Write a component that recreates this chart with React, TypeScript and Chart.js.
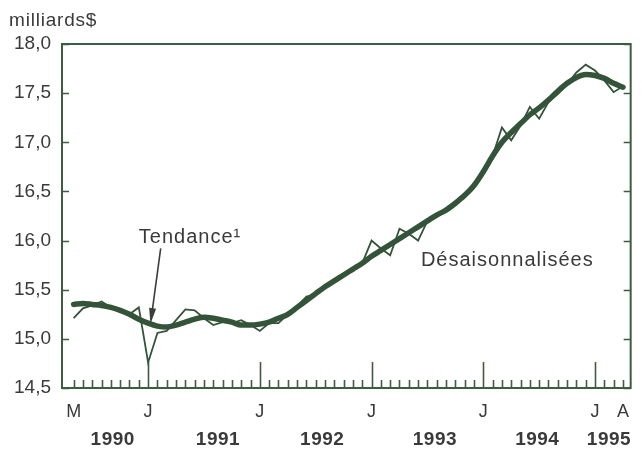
import React, { useEffect, useRef } from 'react';
import { Chart, registerables } from 'chart.js';

Chart.register(...registerables);

// Monthly series, May 1990 (index 0) to April 1995 (index 59), billions of dollars
const adjusted = [
  15.21, 15.31, 15.34, 15.38, 15.32, 15.29, 15.25, 15.32, 14.76, 15.06,
  15.08, 15.19, 15.30, 15.29, 15.21, 15.14, 15.17, 15.16, 15.19, 15.14,
  15.08, 15.16, 15.16, 15.25, 15.33, 15.43, 15.45, 15.53, 15.59, 15.65,
  15.71, 15.77, 16.00, 15.92, 15.85, 16.12, 16.07, 16.00, 16.20, 16.26,
  16.31, 16.38, 16.46, 16.57, 16.70, 16.86, 17.15, 17.02, 17.17, 17.36,
  17.24, 17.41, 17.49, 17.59, 17.71, 17.79, 17.73, 17.63, 17.51, 17.57,
];
const trend = [
  15.35, 15.36, 15.35, 15.34, 15.32, 15.29, 15.25, 15.20, 15.16, 15.13,
  15.12, 15.14, 15.17, 15.20, 15.22, 15.21, 15.19, 15.17, 15.14, 15.14,
  15.15, 15.17, 15.21, 15.25, 15.32, 15.39, 15.46, 15.53, 15.59, 15.65,
  15.71, 15.77, 15.84, 15.90, 15.96, 16.02, 16.08, 16.14, 16.20, 16.26,
  16.31, 16.38, 16.46, 16.56, 16.70, 16.86, 17.00, 17.10, 17.19, 17.28,
  17.35, 17.43, 17.52, 17.60, 17.66, 17.69, 17.68, 17.65, 17.60, 17.56,
];
const monthIndex = trend.map((_, i) => i);

const yTicks = [14.5, 15.0, 15.5, 16.0, 16.5, 17.0, 17.5, 18.0];
const monthLabelIdx = [0, 8, 20, 32, 44, 56, 59];
const monthLabelText = ['M', 'J', 'J', 'J', 'J', 'J', 'A'];
const majorTickIdx = [8, 20, 32, 44, 56];
const yearLabelIdx = [4.2, 15.5, 26.7, 38.8, 49.8, 57.5];
const yearLabelText = ['1990', '1991', '1992', '1993', '1994', '1995'];

// Annotation anchors in data coordinates
const trendLabelPos = { x: 7.0, y: 16.03 };
const arrowFrom = { x: 9.35, y: 15.92 };
const arrowTo = { x: 8.25, y: 15.15 };
const adjLabelPos = { x: 37.3, y: 15.80 };

const LINE = '#34543a';
const AXIS = '#3f5c43';
const TEXT = '#3a3a3a';
const FONT = "'Liberation Sans', Arial, sans-serif";

const framePlugin = {
  id: 'frame',
  beforeDatasetsDraw(chart: any) {
    const { ctx, chartArea, scales } = chart;
    const { left, right, top, bottom } = chartArea;
    const x = scales.x;
    const y = scales.y;
    ctx.save();
    ctx.strokeStyle = AXIS;
    ctx.lineWidth = 2;
    ctx.strokeRect(left, top, right - left, bottom - top);
    ctx.lineWidth = 1.6;
    ctx.beginPath();
    for (const v of yTicks) {
      const py = Math.round(y.getPixelForValue(v)) + 0.5;
      ctx.moveTo(left, py);
      ctx.lineTo(left + 7, py);
      ctx.moveTo(right, py);
      ctx.lineTo(right - 7, py);
    }
    for (const i of monthIndex) {
      const px = Math.round(x.getPixelForValue(i)) + 0.5;
      const h = majorTickIdx.includes(i) ? 26 : 8;
      ctx.moveTo(px, bottom);
      ctx.lineTo(px, bottom - h);
    }
    ctx.stroke();
    ctx.restore();
  },
  afterDraw(chart: any) {
    const { ctx, scales } = chart;
    const x = scales.x;
    const y = scales.y;
    ctx.save();
    ctx.fillStyle = TEXT;
    ctx.textBaseline = 'middle';

    // unit label
    ctx.font = `19px ${FONT}`;
    (ctx as any).letterSpacing = '0.8px';
    ctx.textAlign = 'left';
    ctx.fillText('milliards$', 9, 21);

    // year labels
    ctx.font = `bold 19px ${FONT}`;
    (ctx as any).letterSpacing = '0.5px';
    ctx.textAlign = 'center';
    yearLabelIdx.forEach((v, k) => {
      ctx.fillText(yearLabelText[k], x.getPixelForValue(v), 440);
    });

    // annotations
    ctx.font = `20px ${FONT}`;
    (ctx as any).letterSpacing = '1px';
    ctx.textAlign = 'left';
    ctx.fillText('Tendance¹', x.getPixelForValue(trendLabelPos.x), y.getPixelForValue(trendLabelPos.y));
    ctx.fillText('Désaisonnalisées', x.getPixelForValue(adjLabelPos.x), y.getPixelForValue(adjLabelPos.y));

    // arrow
    const x1 = x.getPixelForValue(arrowFrom.x);
    const y1 = y.getPixelForValue(arrowFrom.y);
    const x2 = x.getPixelForValue(arrowTo.x);
    const y2 = y.getPixelForValue(arrowTo.y);
    const ang = Math.atan2(y2 - y1, x2 - x1);
    const headLen = 16;
    const headW = 3.5;
    ctx.strokeStyle = '#3a3f3a';
    ctx.lineWidth = 1.6;
    ctx.beginPath();
    ctx.moveTo(x1, y1);
    ctx.lineTo(x2 - Math.cos(ang) * headLen * 0.8, y2 - Math.sin(ang) * headLen * 0.8);
    ctx.stroke();
    ctx.fillStyle = '#3a3f3a';
    ctx.beginPath();
    ctx.moveTo(x2, y2);
    const bx = x2 - Math.cos(ang) * headLen;
    const by = y2 - Math.sin(ang) * headLen;
    ctx.lineTo(bx + Math.sin(ang) * headW, by - Math.cos(ang) * headW);
    ctx.lineTo(bx - Math.sin(ang) * headW, by + Math.cos(ang) * headW);
    ctx.closePath();
    ctx.fill();
    ctx.restore();
  },
};

export default function App() {
  const ref = useRef<HTMLCanvasElement | null>(null);

  useEffect(() => {
    if (!ref.current) return;
    const chart = new Chart(ref.current, {
      type: 'line',
      data: {
        datasets: [
          {
            label: 'Désaisonnalisées',
            data: monthIndex.map((i) => ({ x: i, y: adjusted[i] })),
            borderColor: LINE,
            borderWidth: 1.8,
            pointRadius: 0,
            tension: 0,
            borderJoinStyle: 'miter',
            order: 1,
          },
          {
            label: 'Tendance',
            data: monthIndex.map((i) => ({ x: i, y: trend[i] })),
            borderColor: LINE,
            borderWidth: 5.5,
            pointRadius: 0,
            tension: 0.4,
            cubicInterpolationMode: 'monotone',
            borderCapStyle: 'round',
            borderJoinStyle: 'round',
            order: 2,
          },
        ],
      },
      options: {
        animation: false,
        responsive: false,
        maintainAspectRatio: false,
        layout: { padding: { top: 44, right: 4, left: 0, bottom: 0 } },
        plugins: {
          legend: { display: false },
          tooltip: { enabled: false },
          title: { display: false },
        },
        scales: {
          x: {
            type: 'linear',
            min: -1.25,
            max: 59.83,
            grid: { display: false, drawTicks: false },
            border: { display: false },
            afterBuildTicks: (s: any) => {
              s.ticks = monthLabelIdx.map((v) => ({ value: v }));
            },
            afterFit: (s: any) => {
              s.height = 61;
            },
            ticks: {
              autoSkip: false,
              maxRotation: 0,
              padding: 13,
              color: TEXT,
              font: { family: FONT, size: 18 },
              callback: (v: any) => {
                const k = monthLabelIdx.indexOf(Number(v));
                return k >= 0 ? monthLabelText[k] : '';
              },
            },
          },
          y: {
            min: 14.5,
            max: 18,
            grid: { display: false, drawTicks: false },
            border: { display: false },
            afterBuildTicks: (s: any) => {
              s.ticks = yTicks.map((v) => ({ value: v }));
            },
            afterFit: (s: any) => {
              s.width = 62;
            },
            ticks: {
              padding: 11,
              color: TEXT,
              font: { family: FONT, size: 19 },
              callback: (v: any) => Number(v).toFixed(1).replace('.', ','),
            },
          },
        },
      },
      plugins: [framePlugin],
    });
    return () => chart.destroy();
  }, []);

  return (
    <div style={{ position: 'fixed', left: 0, top: 0, width: 642, height: 449, background: '#ffffff' }}>
      <canvas ref={ref} width={642} height={449} style={{ display: 'block' }} />
    </div>
  );
}
